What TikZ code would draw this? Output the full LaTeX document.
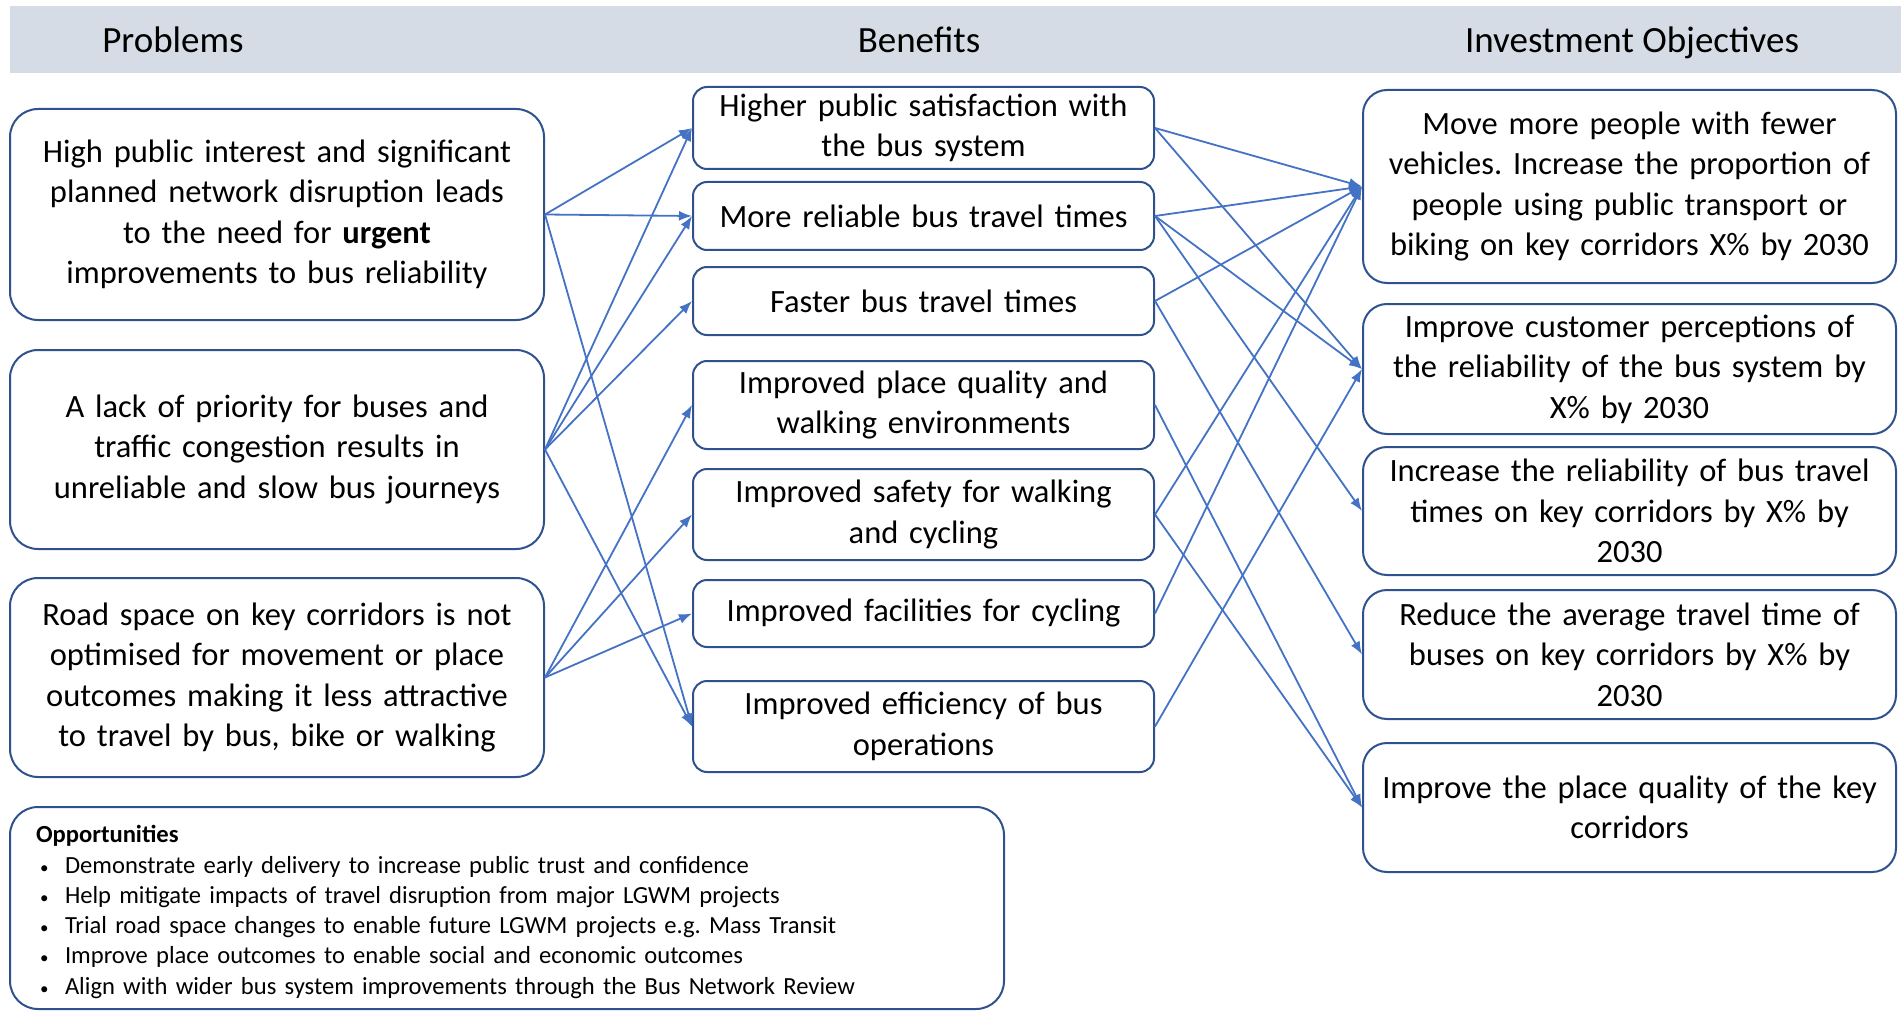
\documentclass[tikz,border=0pt]{standalone}
\usepackage{fontspec}
\setmainfont{Carlito}
\usepackage{xcolor}
\usetikzlibrary{arrows.meta}
\definecolor{bleuFleche}{HTML}{4472C4}
\definecolor{bleuBord}{HTML}{2F528F}
\definecolor{grisBandeau}{HTML}{D6DCE5}
\frenchspacing

\begin{document}
\begin{tikzpicture}[x=1pt,y=-1pt]
% Styles (MODIFIABLES)
\tikzstyle{fleche}=[-{Latex[length=13pt,width=10pt]},line width=1.8pt,draw=bleuFleche]
\tikzstyle{boite}=[draw=bleuBord,line width=2pt,fill=white,inner sep=0pt,align=center,font=\fontsize{32.5}{40.4}\selectfont]
\tikzstyle{probleme}=[boite,rounded corners=28pt,minimum width=534pt,text width=520pt]
\tikzstyle{avantage}=[boite,rounded corners=14pt,minimum width=461pt,text width=450pt]
\tikzstyle{objectif}=[boite,rounded corners=24pt,minimum width=533pt,text width=525pt]
\tikzstyle{cadre}=[draw=bleuBord,line width=2pt,rounded corners=28pt,inner sep=0pt,minimum width=994pt,minimum height=202pt]
\tikzstyle{opportunite}=[inner sep=0pt,text width=942pt,align=left,font=\fontsize{24.6}{30.3}\selectfont]
\tikzstyle{titre}=[anchor=base,font=\fontsize{37}{44}\selectfont]
\newcommand{\puce}{\hspace*{4pt}\makebox[25pt][l]{\fontsize{17}{17}\selectfont\textbullet}}
% Dimensions (MODIFIABLES)
\def\ColonneP{277}
\def\ColonneB{923.5}
\def\ColonneO{1629.5}
\useasboundingbox (0,0) rectangle (1901,1011);
% Bandeau
\fill[grisBandeau] (10,6) rectangle (1901,73);
\node[titre] (TP) at (173,53) {Problems};
\node[titre] (TB) at (919,53) {Benefits};
\node[titre] (TO) at (1632,53) {Investment Objectives};
% Noeuds : problemes
\node[probleme,minimum height=211pt] (Pa) at ({\ColonneP},214.5) {High public interest and significant\\planned network disruption leads\\to the need for \textbf{urgent}\\improvements to bus reliability};
\node[probleme,minimum height=199pt] (Pb) at ({\ColonneP},449.5) {A lack of priority for buses and\\traffic congestion results in\\unreliable and slow bus journeys};
\node[probleme,minimum height=199pt] (Pc) at ({\ColonneP},677.5) {Road space on key corridors is not\\optimised for movement or place\\outcomes making it less attractive\\to travel by bus, bike or walking};
% Noeuds : avantages
\node[avantage,minimum height=82pt] (Ba) at ({\ColonneB},128) {Higher public satisfaction with\\the bus system};
\node[avantage,minimum height=68pt] (Bb) at ({\ColonneB},216) {More reliable bus travel times};
\node[avantage,minimum height=68pt] (Bc) at ({\ColonneB},301) {Faster bus travel times};
\node[avantage,minimum height=88pt] (Bd) at ({\ColonneB},405) {Improved place quality and\\walking environments};
\node[avantage,minimum height=91pt] (Be) at ({\ColonneB},514.5) {Improved safety for walking\\and cycling};
\node[avantage,minimum height=67pt] (Bf) at ({\ColonneB},613.5) {Improved facilities for cycling};
\node[avantage,minimum height=91pt] (Bg) at ({\ColonneB},726.5) {Improved efficiency of bus\\operations};
% Noeuds : objectifs
\node[objectif,minimum height=193pt] (Oa) at ({\ColonneO},186.5) {Move more people with fewer\\vehicles. Increase the proportion of\\people using public transport or\\biking on key corridors X\% by 2030};
\node[objectif,minimum height=130pt] (Ob) at ({\ColonneO},369) {Improve customer perceptions of\\the reliability of the bus system by\\X\% by 2030};
\node[objectif,minimum height=128pt] (Oc) at ({\ColonneO},511) {Increase the reliability of bus travel\\times on key corridors by X\% by\\2030};
\node[objectif,minimum height=129pt] (Od) at ({\ColonneO},654.5) {Reduce the average travel time of\\buses on key corridors by X\% by\\2030};
\node[objectif,minimum height=129pt] (Oe) at ({\ColonneO},807.5) {Improve the place quality of the key\\corridors};
% Opportunites
\node[cadre] (Opp) at (507,908) {};
\node[opportunite] (OppTexte) at (507,912) {\textbf{Opportunities}\\
\puce Demonstrate early delivery to increase public trust and confidence\\
\puce Help mitigate impacts of travel disruption from major LGWM projects\\
\puce Trial road space changes to enable future LGWM projects e.g. Mass Transit\\
\puce Improve place outcomes to enable social and economic outcomes\\
\puce Align with wider bus system improvements through the Bus Network Review};
% Arcs : problemes vers avantages
\draw[fleche] (Pa.east)--(Ba.west);
\draw[fleche] (Pa.east)--(Bb.west);
\draw[fleche] (Pa.east)--(Bg.west);
\draw[fleche] (Pb.east)--(Ba.west);
\draw[fleche] (Pb.east)--(Bb.west);
\draw[fleche] (Pb.east)--(Bc.west);
\draw[fleche] (Pb.east)--(Bg.west);
\draw[fleche] (Pc.east)--(Bd.west);
\draw[fleche] (Pc.east)--(Be.west);
\draw[fleche] (Pc.east)--(Bf.west);
% Arcs : avantages vers objectifs
\draw[fleche] (Ba.east)--(Oa.west);
\draw[fleche] (Ba.east)--(Ob.west);
\draw[fleche] (Bb.east)--(Oa.west);
\draw[fleche] (Bb.east)--(Ob.west);
\draw[fleche] (Bb.east)--(Oc.west);
\draw[fleche] (Bc.east)--(Oa.west);
\draw[fleche] (Bc.east)--(Od.west);
\draw[fleche] (Bd.east)--(Oe.west);
\draw[fleche] (Be.east)--(Oa.west);
\draw[fleche] (Be.east)--(Oe.west);
\draw[fleche] (Bf.east)--(Oa.west);
\draw[fleche] (Bg.east)--(Ob.west);
\end{tikzpicture}
\end{document}
